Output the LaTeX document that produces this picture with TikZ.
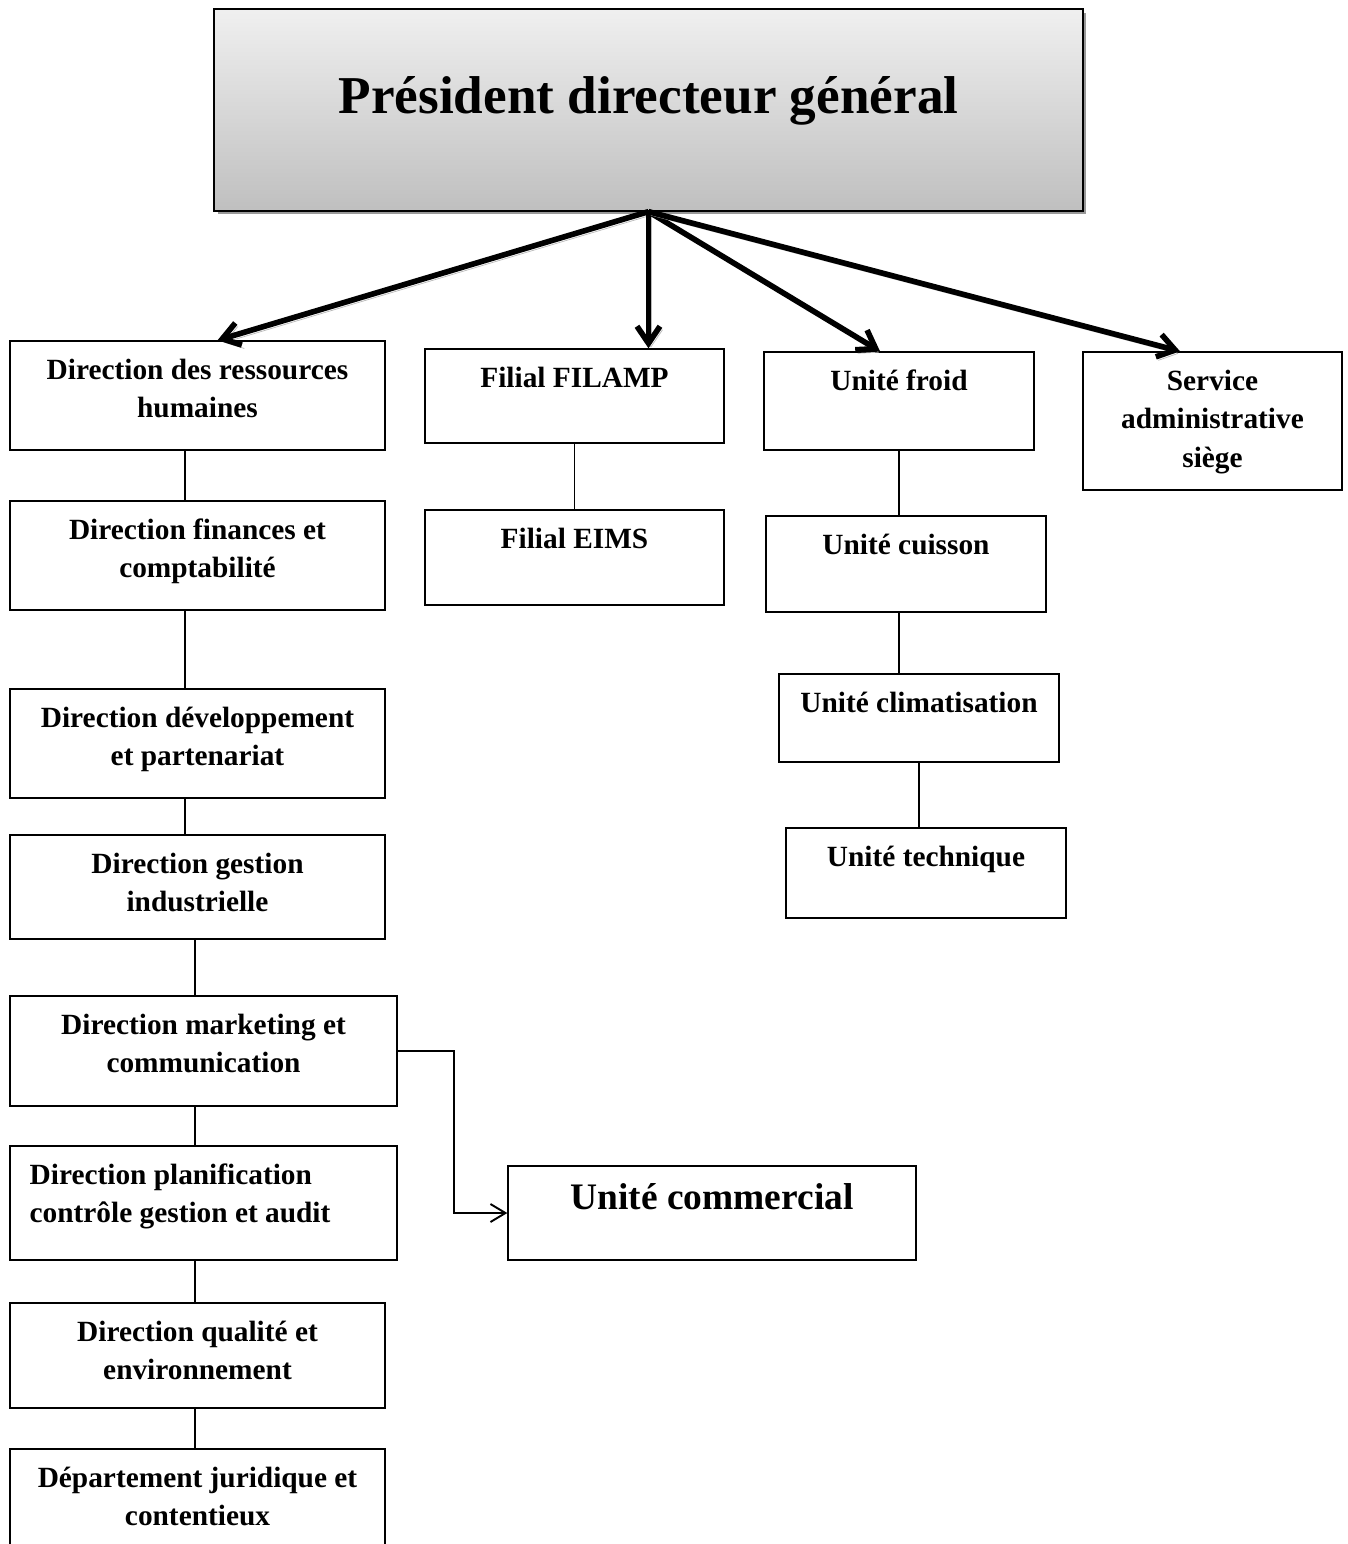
\documentclass[tikz,border=0pt]{standalone}
\usepackage{fontspec}
\setmainfont{Liberation Serif}
\usetikzlibrary{arrows.meta,shadows}

\tikzset{
    boite/.style 2 args={draw, rectangle, minimum width=#1, minimum height=#2, inner sep=0pt, line width=0.8pt},
    texte/.style={anchor=north, inner sep=0pt, yshift=-0.36cm, align=center, font=\fontsize{16.7}{22}\selectfont\bfseries},
    lien/.style={line width=1pt},
    fleche/.style={line width=3.2pt, -{Straight Barb[length=0.34cm, width=0.46cm]},
        preaction={draw=gray!55, transform canvas={shift={(0.05cm,-0.07cm)}}}}
}

\begin{document}
\begin{tikzpicture}[x=0.02cm, y=-0.02cm]
    \clip (0,0) rectangle (1348,1544);
    \fill[white] (0,0) rectangle (1348,1544);

    % Président
    \node[boite={17.38cm}{4.04cm}, top color=gray!12, bottom color=gray!50,
          drop shadow={shadow xshift=0.07cm, shadow yshift=-0.07cm, fill=gray!80, opacity=1},
          label={[anchor=north, inner sep=0pt, yshift=-1.36cm, font=\fontsize{30.3}{36}\selectfont\bfseries]north:Président directeur général}]
          (pdg) at (648.5,110) {};

    % Directions
    \node[boite={7.5cm}{2.18cm}, label={[texte]north:{Direction des ressources\\humaines}}] (drh) at (197.5,395.5) {};
    \node[boite={7.5cm}{2.18cm}, label={[texte]north:{Direction finances et\\comptabilité}}] (dfc) at (197.5,555.5) {};
    \node[boite={7.5cm}{2.18cm}, label={[texte]north:{Direction développement\\et partenariat}}] (ddp) at (197.5,743.5) {};
    \node[boite={7.5cm}{2.08cm}, label={[texte]north:{Direction gestion\\industrielle}}] (dgi) at (197.5,887) {};
    \node[boite={7.74cm}{2.2cm}, label={[texte]north:{Direction marketing et\\communication}}] (dmc) at (203.5,1051) {};
    \node[boite={7.74cm}{2.28cm}, label={[texte, anchor=north west, align=left, xshift=0.4cm]north west:{Direction planification\\contrôle gestion et audit}}] (dpc) at (203.5,1203) {};
    \node[boite={7.5cm}{2.1cm}, label={[texte]north:{Direction qualité et\\environnement}}] (dqe) at (197.5,1355.5) {};
    \node[boite={7.5cm}{2.2cm}, label={[texte]north:{Département juridique et\\contentieux}}] (dju) at (197.5,1504) {};

    % Filiales
    \node[boite={5.98cm}{1.88cm}, label={[texte]north:Filial FILAMP}] (filamp) at (574.5,396) {};
    \node[boite={5.98cm}{1.9cm}, label={[texte]north:Filial EIMS}] (eims) at (574.5,557.5) {};

    % Unites
    \node[boite={5.4cm}{1.96cm}, label={[texte]north:Unité froid}] (froid) at (899,401) {};
    \node[boite={5.6cm}{1.92cm}, label={[texte]north:Unité cuisson}] (cuisson) at (906,564) {};
    \node[boite={5.6cm}{1.76cm}, label={[texte]north:Unité climatisation}] (clim) at (919,718) {};
    \node[boite={5.6cm}{1.8cm}, label={[texte]north:Unité technique}] (tech) at (926,873) {};
    \node[boite={5.18cm}{2.76cm}, label={[texte]north:{Service\\administrative\\siège}}] (service) at (1212.5,421) {};
    \node[boite={8.16cm}{1.88cm}, label={[texte, font=\fontsize{21.3}{26}\selectfont\bfseries]north:Unité commercial}] (commercial) at (712,1213) {};

    % Fleches du president
    \draw[fleche] (pdg.south) -- ([xshift=0.4cm]drh.north);
    \draw[fleche] (pdg.south) -- (pdg.south |- filamp.north);
    \draw[fleche] (pdg.south) -- ([xshift=-0.38cm]froid.north);
    \draw[fleche] (pdg.south) -- ([xshift=-0.65cm]service.north);

    % Liens colonne gauche
    \foreach \a/\b in {drh/dfc, dfc/ddp, ddp/dgi}
    {
        \draw[lien] ([xshift=-0.25cm]\a.south) -- ([xshift=-0.25cm]\b.north);
    }
    \draw[lien] ([xshift=-0.05cm]dgi.south) -- ([xshift=-0.17cm]dmc.north);
    \draw[lien] ([xshift=-0.17cm]dmc.south) -- ([xshift=-0.17cm]dpc.north);
    \draw[lien] ([xshift=-0.17cm]dpc.south) -- ([xshift=-0.05cm]dqe.north);
    \draw[lien] ([xshift=-0.05cm]dqe.south) -- ([xshift=-0.05cm]dju.north);

    % Liens filiales et unites
    \draw[lien] (filamp) -- (eims);
    \draw[lien] (froid.south) -- (froid.south |- cuisson.north);
    \draw[lien] (froid.south |- cuisson.south) -- (froid.south |- clim.north);
    \draw[lien] (clim.south) -- (clim.south |- tech.north);

    % Unite commercial
    \draw[line width=1.1pt, -{Straight Barb[length=0.3cm, width=0.36cm]}] (dmc.east) -- ++(56,0) |- (commercial.west);
\end{tikzpicture}
\end{document}
